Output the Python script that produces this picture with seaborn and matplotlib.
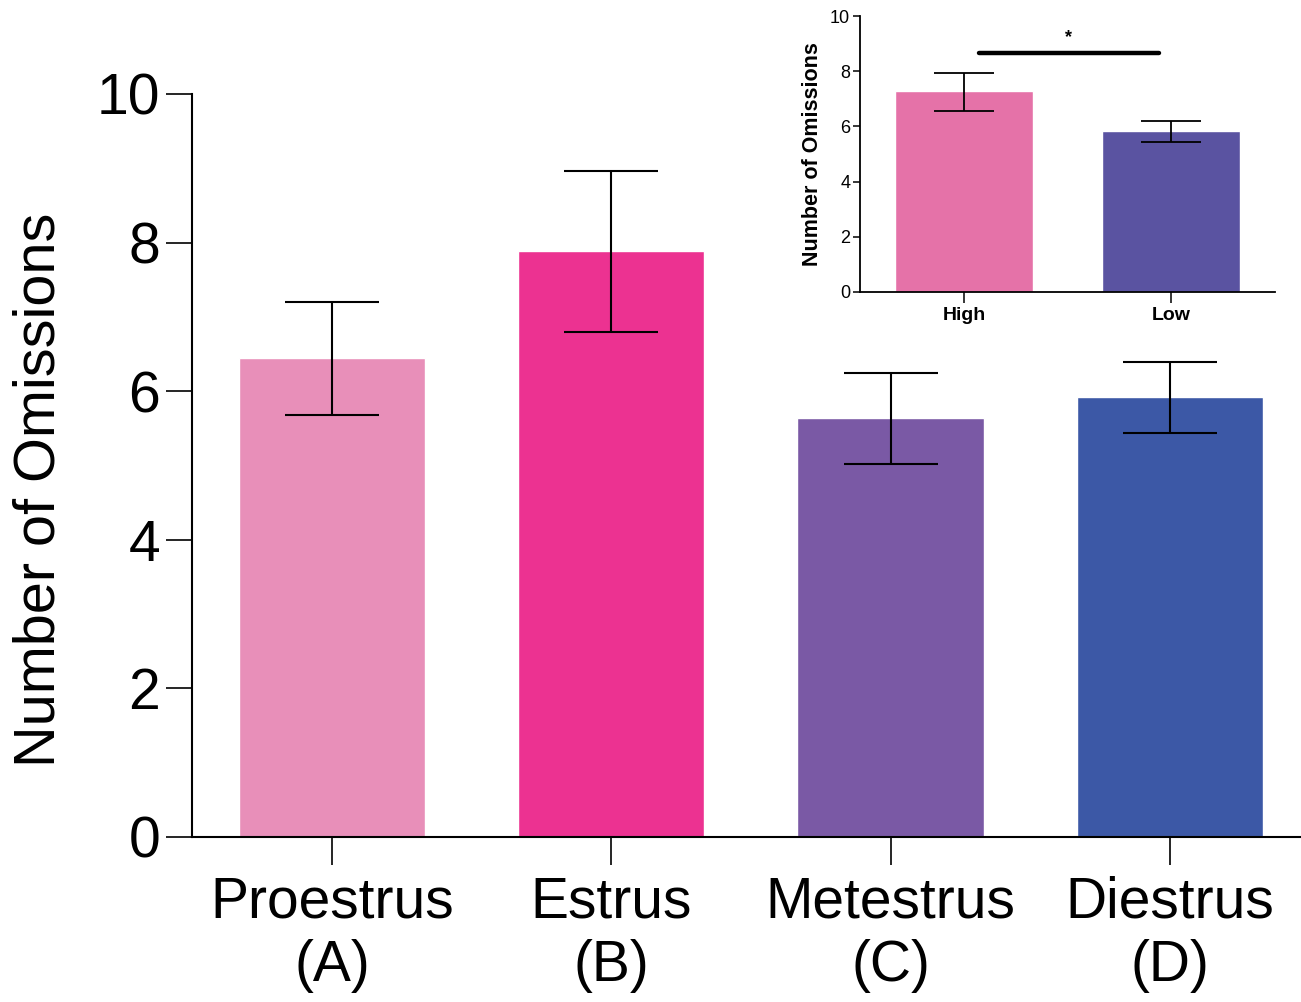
import matplotlib
matplotlib.use("Agg")
import matplotlib.pyplot as plt
import seaborn as sns
import numpy as np
import pandas as pd

# Main chart data
phases = ["Proestrus\n(A)", "Estrus\n(B)", "Metestrus\n(C)", "Diestrus\n(D)"]
means = [6.45, 7.89, 5.64, 5.92]
err_upper = [7.20, 8.97, 6.25, 6.39]
err_lower = [5.68, 6.80, 5.02, 5.44]
phase_colors = ["#E88FB9", "#EC3291", "#7A59A5", "#3C58A6"]

# Inset data
groups = ["High", "Low"]
group_means = [7.27, 5.82]
group_upper = [7.95, 6.18]
group_lower = [6.56, 5.43]
group_colors = ["#E572A8", "#5A53A1"]
sig_level = 8.66
sig_label = "*"

sns.set_theme(style="white")
plt.rcParams["font.family"] = ["Liberation Sans", "DejaVu Sans"]
plt.rcParams["text.color"] = "black"
plt.rcParams["axes.labelcolor"] = "black"

fig = plt.figure(figsize=(13.01, 10.02), dpi=100)
ax = fig.add_axes([0.1476, 0.1647, 0.8524, 0.7415])

df = pd.DataFrame({"phase": phases, "mean": means})
sns.barplot(data=df, x="phase", y="mean", hue="phase", palette=phase_colors,
            width=0.667, errorbar=None, legend=False, ax=ax, saturation=1)
xs = np.arange(len(phases))
m = np.array(means)
ax.errorbar(xs, m, yerr=[m - np.array(err_lower), np.array(err_upper) - m],
            fmt="none", ecolor="black", elinewidth=1.5, capsize=33.5, capthick=1.5)
ax.set_ylim(0, 10)
ax.set_xlim(-0.502, 3.47)
ax.set_yticks([0, 2, 4, 6, 8, 10])
ax.set_ylabel("Number of Omissions", fontsize=41.5)
ax.yaxis.set_label_coords(-0.113, 0.467)
ax.set_xlabel("")
for s in ["top", "right"]:
    ax.spines[s].set_visible(False)
for s in ["left", "bottom"]:
    ax.spines[s].set_color("black")
    ax.spines[s].set_linewidth(1.5)
ax.tick_params(axis="y", which="major", direction="out", length=19, width=1.2,
               labelsize=41, pad=4, colors="black", left=True)
ax.tick_params(axis="x", which="major", direction="out", length=20, width=1.2,
               labelsize=41, pad=8, colors="black", bottom=True)
for lbl in ax.get_xticklabels():
    lbl.set_linespacing(1.22)

# Inset
ax2 = fig.add_axes([0.661, 0.7086, 0.319, 0.2754])
df2 = pd.DataFrame({"group": groups, "mean": group_means})
sns.barplot(data=df2, x="group", y="mean", hue="group", palette=group_colors,
            width=0.667, errorbar=None, legend=False, ax=ax2, saturation=1)
gx = np.arange(len(groups))
gm = np.array(group_means)
ax2.errorbar(gx, gm, yerr=[gm - np.array(group_lower), np.array(group_upper) - gm],
             fmt="none", ecolor="black", elinewidth=1.3, capsize=21.6, capthick=1.3)
ax2.plot([0.07, 0.94], [sig_level, sig_level], color="black", lw=3.2,
         solid_capstyle="round")
ax2.text(0.505, sig_level + 0.25, sig_label, ha="center", va="bottom",
         fontsize=13, fontweight="bold")
ax2.set_ylim(0, 10)
ax2.set_xlim(-0.502, 1.5)
ax2.set_yticks([0, 2, 4, 6, 8, 10])
ax2.set_ylabel("Number of Omissions", fontsize=15.5, fontweight="bold")
ax2.yaxis.set_label_coords(-0.09, 0.5)
ax2.set_xlabel("")
for s in ["top", "right"]:
    ax2.spines[s].set_visible(False)
for s in ["left", "bottom"]:
    ax2.spines[s].set_color("black")
    ax2.spines[s].set_linewidth(1.3)
ax2.tick_params(axis="y", direction="out", length=5, width=1.1, labelsize=13,
                pad=2, colors="black", left=True)
ax2.tick_params(axis="x", direction="out", length=8, width=1.1, labelsize=14,
                pad=3, colors="black", bottom=True)
for lbl in ax2.get_xticklabels():
    lbl.set_fontweight("bold")

fig.savefig("out.png", dpi=100, facecolor="white")
